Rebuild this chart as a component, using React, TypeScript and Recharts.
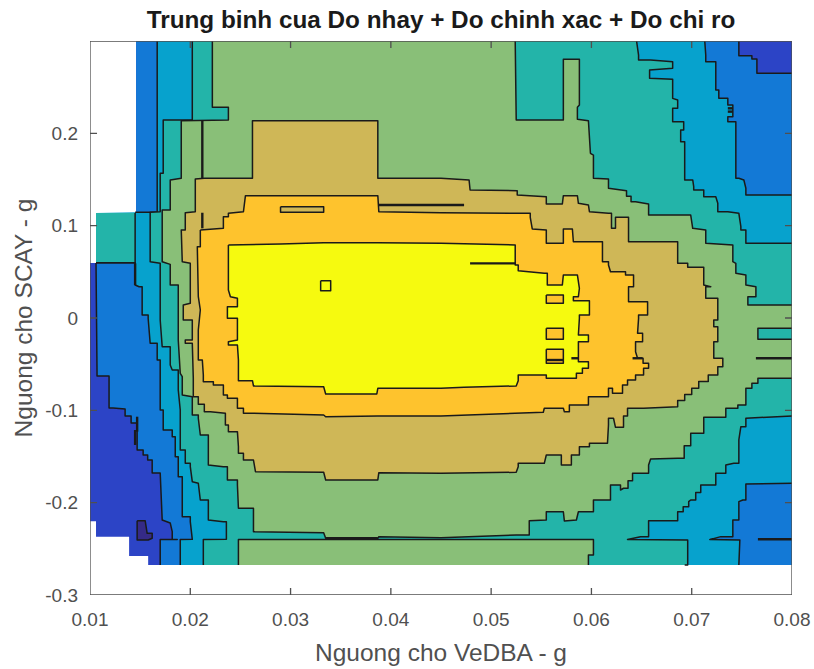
import { ComposedChart, Scatter, XAxis, YAxis } from 'recharts'

type Pt = [number, number]

const xTicks = [0.01, 0.02, 0.03, 0.04, 0.05, 0.06, 0.07, 0.08]
const yTicks = [-0.3, -0.2, -0.1, 0, 0.1, 0.2]
const xInnerTicks = [0.02, 0.03, 0.04, 0.05, 0.06, 0.07]
const yInnerTicks = [-0.2, -0.1, 0, 0.1, 0.2]

const COLORS = {
  deep: '#352A87',
  navy: '#2C44C6',
  blue: '#1379D6',
  cyan: '#07A2CD',
  teal: '#23B4A9',
  green: '#89BF78',
  tan: '#CFB757',
  orange: '#FEC32D',
  yellow: '#F6FA0F',
}

// Each level is a list of runs: even runs are contour lines, odd runs follow the edge of the data (no line)
const dataExtent: Pt[] = [
  [0.0146, 0.3], [0.08, 0.3], [0.08, -0.2675], [0.0158, -0.2675], [0.0158, -0.2578], [0.0139, -0.2578],
  [0.0139, -0.237], [0.0106, -0.237], [0.0106, -0.22], [0.01, -0.22], [0.01, 0.0596], [0.0106, 0.0596],
  [0.0106, 0.1137], [0.0146, 0.1137],
]

const blueCornerTop: Pt[] = [
  [0.0747, 0.3], [0.0747, 0.284], [0.076, 0.2805], [0.0765, 0.272], [0.0765, 0.265], [0.08, 0.265],
]
const blueLeft: Pt[] = [
  [0.017, -0.2675], [0.017, -0.24], [0.0187, -0.24], [0.0182, -0.2314], [0.018, -0.222], [0.0172, -0.2188],
  [0.017, -0.1679], [0.0162, -0.1538], [0.0153, -0.143], [0.0147, -0.1137], [0.0135, -0.0986], [0.0123, -0.0975],
  [0.0119, -0.0866], [0.0119, -0.0628], [0.0107, -0.0574], [0.0106, 0.0596],
]

const cyanTopLeft: Pt[] = [[0.0167, 0.3], [0.0167, 0.1145], [0.0145, 0.1145]]
const cyanLeft: Pt[] = [
  [0.0106, 0.0599], [0.0145, 0.0599], [0.0145, 0.0357], [0.0149, 0.0339], [0.0152, 0.0231], [0.0152, 0.0032],
  [0.0158, -0.0005], [0.016, -0.0274], [0.0167, -0.0455], [0.017, -0.0599], [0.017, -0.0996], [0.0173, -0.1213],
  [0.0182, -0.1285], [0.0185, -0.1502], [0.0188, -0.1719], [0.0192, -0.2152], [0.02, -0.2206], [0.0202, -0.2397],
  [0.019, -0.24], [0.019, -0.2675],
]
const cyanBottomRight: Pt[] = [
  [0.0747, -0.2675], [0.0748, -0.2404], [0.0718, -0.24], [0.0729, -0.2368], [0.0741, -0.2314], [0.0741, -0.2188],
  [0.0747, -0.1989], [0.0751, -0.1971], [0.0754, -0.1798], [0.08, -0.179],
]
const cyanTopRight: Pt[] = [
  [0.08, 0.1332], [0.0764, 0.1332], [0.0754, 0.1405], [0.0752, 0.1495], [0.0747, 0.1513], [0.0744, 0.2],
  [0.0744, 0.2126], [0.0736, 0.218], [0.0741, 0.2307], [0.0736, 0.2379], [0.0727, 0.2469], [0.0724, 0.265],
  [0.0724, 0.2776], [0.0714, 0.2848], [0.0713, 0.3],
]

const tealBlockEdge: Pt[] = [[0.0145, 0.1137], [0.0145, 0.0599], [0.0106, 0.0599]]
const tealLeft: Pt[] = [
  [0.0202, 0.3], [0.0202, 0.2144], [0.0173, 0.2144], [0.0173, 0.1567], [0.017, 0.1495], [0.017, 0.1151],
  [0.016, 0.1145], [0.016, 0.061], [0.017, 0.0592], [0.017, -0.0022], [0.0172, -0.0311], [0.018, -0.0509],
  [0.0182, -0.0563], [0.0188, -0.078], [0.019, -0.0996], [0.019, -0.143], [0.0195, -0.1574], [0.02, -0.161],
  [0.0202, -0.1773], [0.0208, -0.179], [0.021, -0.1971], [0.0218, -0.2079], [0.0218, -0.2188], [0.0233, -0.2206],
  [0.0236, -0.2397], [0.0213, -0.24], [0.0213, -0.2675],
]
const tealBottomRight: Pt[] = [
  [0.0693, -0.2675], [0.0696, -0.2567], [0.0696, -0.2404], [0.0636, -0.24], [0.0649, -0.2368], [0.0657, -0.2296],
  [0.0657, -0.2195], [0.0686, -0.2195], [0.0686, -0.2098], [0.0697, -0.1989], [0.0699, -0.1971], [0.0709, -0.1809],
  [0.0724, -0.1754], [0.0724, -0.1682], [0.0734, -0.1592], [0.0742, -0.1574], [0.0747, -0.1321], [0.0749, -0.1177],
  [0.0754, -0.1086], [0.08, -0.1061],
]
const tealTopRight: Pt[] = [
  [0.08, 0.0809], [0.0754, 0.0809], [0.0754, 0.0953], [0.0749, 0.0989], [0.0747, 0.1134], [0.0736, 0.1151],
  [0.0726, 0.1242], [0.0724, 0.1314], [0.0712, 0.1386], [0.0702, 0.1422], [0.0701, 0.1495], [0.0693, 0.153],
  [0.0693, 0.1909], [0.0689, 0.2036], [0.0692, 0.2126], [0.0681, 0.2163], [0.0681, 0.2271], [0.0686, 0.2307],
  [0.0686, 0.2361], [0.0681, 0.2379], [0.0681, 0.2585], [0.0658, 0.2596], [0.0658, 0.2686], [0.0681, 0.2704],
  [0.0681, 0.2776], [0.0659, 0.2794], [0.0647, 0.2848], [0.0645, 0.3],
]

const greenLower: Pt[] = [
  [0.0222, 0.3], [0.0222, 0.2282], [0.0238, 0.2282], [0.0238, 0.2144], [0.0191, 0.2137], [0.0191, 0.1513],
  [0.018, 0.1495], [0.018, 0.117], [0.0172, 0.1134], [0.0172, 0.061], [0.018, 0.0581], [0.018, 0.0357],
  [0.0188, 0.0321], [0.0188, -0.0022], [0.0188, -0.0238], [0.019, -0.0599], [0.0192, -0.0635], [0.0192, -0.0834],
  [0.0202, -0.0852], [0.0202, -0.105], [0.0208, -0.1086], [0.021, -0.1267], [0.0218, -0.1592], [0.0233, -0.161],
  [0.0237, -0.1754], [0.0247, -0.1809], [0.0248, -0.2061], [0.0263, -0.2134], [0.0263, -0.2314], [0.0333, -0.2325],
  [0.0335, -0.2386], [0.0387, -0.2386], [0.0388, -0.2368], [0.045, -0.2379], [0.0525, -0.235], [0.0538, -0.2296],
  [0.0538, -0.2195], [0.0555, -0.2188], [0.0555, -0.2098], [0.0572, -0.2098], [0.0573, -0.2198], [0.0585, -0.2188],
  [0.0587, -0.2098], [0.0602, -0.2044], [0.0602, -0.1971], [0.0616, -0.1971], [0.0619, -0.1809], [0.0626, -0.1809],
  [0.0629, -0.1863], [0.0632, -0.1844], [0.0641, -0.1682], [0.0657, -0.1592], [0.0659, -0.1527], [0.0686, -0.1519],
  [0.0699, -0.1249], [0.0712, -0.1159], [0.0712, -0.1075], [0.0734, -0.0978], [0.0746, -0.0942], [0.0754, -0.0761],
  [0.0766, -0.0653], [0.08, -0.0653],
]
const greenUpper: Pt[] = [
  [0.08, 0.0141], [0.0767, 0.0141], [0.0756, 0.0231], [0.0764, 0.0339], [0.0754, 0.0357], [0.0754, 0.0466],
  [0.0744, 0.0484], [0.0744, 0.0592], [0.0741, 0.061], [0.0741, 0.0791], [0.0714, 0.0809], [0.0714, 0.0953],
  [0.0701, 0.0971], [0.0699, 0.1115], [0.0657, 0.1151], [0.0657, 0.1235], [0.0644, 0.126], [0.0635, 0.1379],
  [0.0617, 0.1405], [0.0617, 0.1505], [0.0602, 0.1513], [0.0602, 0.1765], [0.0599, 0.1784], [0.0597, 0.2137],
  [0.0586, 0.2152], [0.0586, 0.2282], [0.0588, 0.2307], [0.0588, 0.2802], [0.0572, 0.2802], [0.0572, 0.2144],
  [0.0525, 0.2144], [0.0524, 0.3],
]
const greenStrip: Pt[] = [[0.0248, -0.2675], [0.0248, -0.24], [0.0602, -0.24], [0.0602, -0.2567], [0.0597, -0.2675]]
const tealNotch: Pt[] = [[0.08, -0.0112], [0.0766, -0.0112], [0.0766, -0.0231], [0.08, -0.0231]]

const tanContour: Pt[] = [
  [0.0214, 0.1513], [0.0262, 0.1513], [0.0262, 0.2137], [0.0387, 0.2137], [0.0387, 0.1513], [0.045, 0.1513],
  [0.0478, 0.1495], [0.0479, 0.1386], [0.0526, 0.1379], [0.0526, 0.1332], [0.0555, 0.1314], [0.0555, 0.1235],
  [0.0571, 0.1235], [0.0572, 0.1325], [0.0586, 0.1325], [0.0587, 0.1242], [0.0597, 0.1224], [0.0598, 0.1151],
  [0.0617, 0.1134], [0.062, 0.0971], [0.0624, 0.0971], [0.0624, 0.1091], [0.0632, 0.1091], [0.0637, 0.0826],
  [0.0686, 0.0791], [0.0686, 0.0592], [0.0696, 0.0549], [0.0712, 0.0466], [0.0712, 0.0357], [0.0719, 0.0339],
  [0.0714, 0.0213], [0.0726, 0.0122], [0.0726, -0.0022], [0.0722, -0.0094], [0.0726, -0.0257], [0.0722, -0.0436],
  [0.0731, -0.0527], [0.0726, -0.0617], [0.0707, -0.0761], [0.0686, -0.096], [0.0652, -0.0978], [0.0636, -0.1061],
  [0.0632, -0.1184], [0.0624, -0.1184], [0.0622, -0.1086], [0.0617, -0.1159], [0.0616, -0.1357], [0.0598, -0.1394],
  [0.0588, -0.1484], [0.058, -0.1592], [0.0573, -0.1592], [0.057, -0.1484], [0.0555, -0.1484], [0.0553, -0.1574],
  [0.0527, -0.161], [0.0525, -0.1671], [0.045, -0.1682], [0.0388, -0.1675], [0.0387, -0.1754], [0.0335, -0.1754],
  [0.0333, -0.1671], [0.0265, -0.1664], [0.0263, -0.1538], [0.0253, -0.1465], [0.0248, -0.1394], [0.0247, -0.1231],
  [0.0238, -0.1159], [0.0235, -0.1032], [0.022, -0.1015], [0.0208, -0.0852], [0.0203, -0.0653], [0.0202, -0.0274],
  [0.0195, -0.0274], [0.0195, -0.0238], [0.0202, -0.0238], [0.0202, -0.0022], [0.0193, 0.0014], [0.0193, 0.0141],
  [0.02, 0.0159], [0.02, 0.0592], [0.0192, 0.061], [0.0191, 0.0953], [0.0195, 0.0989], [0.0195, 0.114],
  [0.0205, 0.1151], [0.0205, 0.1505], [0.0214, 0.1513],
]

const orangeContour: Pt[] = [
  [0.021, 0.0953], [0.0233, 0.0971], [0.0233, 0.1097], [0.0238, 0.1134], [0.0253, 0.1151], [0.0255, 0.1325],
  [0.0387, 0.1325], [0.0388, 0.1151], [0.045, 0.114], [0.0523, 0.1134], [0.0539, 0.1091], [0.0541, 0.0964],
  [0.0555, 0.0953], [0.0555, 0.0809], [0.0572, 0.0809], [0.0572, 0.0964], [0.0581, 0.0964], [0.0582, 0.0826],
  [0.0611, 0.0772], [0.0611, 0.061], [0.0617, 0.0574], [0.0619, 0.0501], [0.0634, 0.0466], [0.0642, 0.0339],
  [0.0637, 0.0177], [0.0656, 0.0122], [0.0656, 0.0032], [0.0647, -0.0005], [0.0646, -0.0166], [0.0651, -0.0257],
  [0.0644, -0.0365], [0.0646, -0.0436], [0.0657, -0.0545], [0.0652, -0.0617], [0.0636, -0.0726], [0.0631, -0.0816],
  [0.0624, -0.0816], [0.0621, -0.0761], [0.0617, -0.0852], [0.0597, -0.0942], [0.0578, -0.1015], [0.0573, -0.1015],
  [0.0572, -0.0978], [0.0553, -0.0978], [0.0552, -0.1021], [0.0477, -0.105], [0.045, -0.1061], [0.0387, -0.1061],
  [0.0335, -0.1069], [0.0333, -0.105], [0.0263, -0.1032], [0.0253, -0.0978], [0.0247, -0.087], [0.0237, -0.0834],
  [0.0233, -0.0726], [0.0223, -0.069], [0.0213, -0.0617], [0.0212, -0.0455], [0.0208, -0.0311], [0.0208, -0.013],
  [0.021, 0.0087], [0.0208, 0.0231], [0.0207, 0.0772], [0.021, 0.0953],
]
const tanSlot: Pt[] = [[0.029, 0.1205], [0.0333, 0.1205], [0.0333, 0.1145], [0.029, 0.1145], [0.029, 0.1205]]

const yellowContour: Pt[] = [
  [0.0238, 0.0791], [0.029, 0.0801], [0.0333, 0.0816], [0.0387, 0.0816], [0.045, 0.0809], [0.0524, 0.0791],
  [0.0524, 0.0574], [0.0527, 0.0512], [0.0553, 0.0484], [0.0556, 0.0357], [0.0571, 0.0357], [0.0572, 0.0466],
  [0.0586, 0.0466], [0.0588, 0.0322], [0.0587, 0.0231], [0.0582, 0.0187], [0.0598, 0.0122], [0.0598, 0.0032],
  [0.0588, -0.0003], [0.0587, -0.0184], [0.0597, -0.0257], [0.0587, -0.0311], [0.0587, -0.0473], [0.0597, -0.0545],
  [0.0585, -0.0653], [0.0573, -0.0653], [0.0555, -0.0617], [0.0527, -0.0679], [0.0525, -0.0736], [0.0473, -0.0751],
  [0.045, -0.0761], [0.0387, -0.0761], [0.0386, -0.0823], [0.0335, -0.0823], [0.0333, -0.0744], [0.0263, -0.0736],
  [0.0262, -0.0679], [0.0248, -0.0642], [0.0248, -0.0455], [0.0247, -0.0292], [0.0238, -0.0257], [0.0247, -0.0238],
  [0.0247, -0.0003], [0.024, -0.0003], [0.0237, 0.0068], [0.0237, 0.0122], [0.0247, 0.0213], [0.024, 0.0231],
  [0.0238, 0.0303], [0.0238, 0.0791],
]
const yellowSquare: Pt[] = [[0.033, 0.0404], [0.034, 0.0404], [0.034, 0.0296], [0.033, 0.0296], [0.033, 0.0404]]
const orangeBoxTop: Pt[] = [[0.0555, 0.0249], [0.0572, 0.0249], [0.0572, 0.0159], [0.0555, 0.0159], [0.0555, 0.0249]]
const orangeBoxMid: Pt[] = [[0.0555, -0.0112], [0.0572, -0.0112], [0.0572, -0.0231], [0.0555, -0.0231], [0.0555, -0.0112]]
const orangeBoxLow: Pt[] = [[0.0555, -0.0339], [0.0572, -0.0339], [0.0572, -0.0491], [0.0555, -0.0491], [0.0555, -0.0339]]
const deepSpot: Pt[] = [
  [0.0147, -0.2195], [0.0155, -0.2195], [0.0157, -0.2332], [0.0162, -0.2386], [0.0158, -0.2404], [0.0147, -0.2404],
  [0.0147, -0.2195],
]

// contour pairs that nearly touch, they read as heavier strokes
const heavyLines: Pt[][] = [
  [[0.0212, 0.2137], [0.0212, 0.1513]],
  [[0.0212, 0.114], [0.0212, 0.0971]],
  [[0.0388, 0.1224], [0.0473, 0.1224]],
  [[0.0479, 0.0592], [0.0524, 0.0592]],
  [[0.0145, 0.0592], [0.0145, 0.0357]],
  [[0.0764, -0.0436], [0.08, -0.0436]],
  [[0.0766, -0.2397], [0.08, -0.2397]],
  [[0.058, -0.0436], [0.0587, -0.0436]],
  [[0.0641, -0.0436], [0.0651, -0.0436]],
  [[0.0555, -0.0455], [0.0572, -0.0455]],
  [[0.0147, -0.1069], [0.0147, -0.1231]],
  [[0.0145, -0.1213], [0.0145, -0.1375]],
  [[0.0736, 0.2271], [0.0741, 0.2271]],
  [[0.0736, 0.2235], [0.0741, 0.2235]],
  [[0.0335, -0.2386], [0.0387, -0.2386]],
]

const levels: { color: string; runs: Pt[][] }[] = [
  { color: COLORS.navy, runs: [[], dataExtent] },
  { color: COLORS.blue, runs: [blueCornerTop, [[0.08, -0.2675]], blueLeft, [[0.0106, 0.1137], [0.0146, 0.1137], [0.0146, 0.3]]] },
  { color: COLORS.deep, runs: [deepSpot] },
  { color: COLORS.cyan, runs: [cyanTopLeft, [[0.0106, 0.1137]], cyanLeft, [], cyanBottomRight, [], cyanTopRight] },
  { color: COLORS.teal, runs: [tealBlockEdge, [[0.0106, 0.1137]]] },
  { color: COLORS.teal, runs: [tealLeft, [], tealBottomRight, [], tealTopRight] },
  { color: COLORS.green, runs: [greenLower, [], greenUpper] },
  { color: COLORS.green, runs: [greenStrip] },
  { color: COLORS.teal, runs: [tealNotch] },
  { color: COLORS.tan, runs: [tanContour] },
  { color: COLORS.orange, runs: [orangeContour] },
  { color: COLORS.tan, runs: [tanSlot] },
  { color: COLORS.yellow, runs: [yellowContour] },
  { color: COLORS.yellow, runs: [yellowSquare] },
  { color: COLORS.orange, runs: [orangeBoxTop] },
  { color: COLORS.orange, runs: [orangeBoxMid] },
  { color: COLORS.orange, runs: [orangeBoxLow] },
]

// axes paint under the series, so the box and its inward ticks go on top as a series too
const boxOutline: Pt[] = [[0.01, -0.3], [0.08, -0.3], [0.08, 0.3], [0.01, 0.3], [0.01, -0.3]]
const X_TICK_LEN = 0.0076
const Y_TICK_LEN = 0.0007
const boxRuns: Pt[][] = [
  boxOutline,
  [],
  ...xInnerTicks.flatMap((x): Pt[][] => [
    [[x, -0.3], [x, -0.3 + X_TICK_LEN]], [],
    [[x, 0.3], [x, 0.3 - X_TICK_LEN]], [],
  ]),
  ...yInnerTicks.flatMap((y): Pt[][] => [
    [[0.01, y], [0.01 + Y_TICK_LEN, y]], [],
    [[0.08, y], [0.08 - Y_TICK_LEN, y]], [],
  ]),
]

const FONT = '"Liberation Sans", Arial, sans-serif'
const AXIS = '#505050'
const STEP = 6

// the grid behind the contours is coarse, so slanted edges are drawn as little stairs
function stairs(a: any, b: any) {
  const dx = b.x - a.x
  const dy = b.y - a.y
  if (Math.abs(dx) < 3 || Math.abs(dy) < 3) return `L${b.x} ${b.y}`
  const n = Math.max(1, Math.round(Math.min(Math.abs(dx), Math.abs(dy)) / STEP))
  let out = ''
  for (let k = 1; k <= n; k++) {
    out += `L${a.x + (dx * k) / n} ${a.y + (dy * (k - 1)) / n}L${a.x + (dx * k) / n} ${a.y + (dy * k) / n}`
  }
  return out
}

function trace(pts: any[]) {
  let d = `M${pts[0].x} ${pts[0].y}`
  for (let k = 1; k < pts.length; k++) d += stairs(pts[k - 1], pts[k])
  return d
}

// drawn by Scatter as its line: gets the points already run through the axis scales
function ContourPatch({ points, color, runs, weight = 1.5, ink = '#1a1a1a' }: any) {
  if (!points || !points.length) return null
  let i = 0
  let linePath = ''
  let fillPath = ''
  runs.forEach((run: Pt[], r: number) => {
    const chunk = points.slice(i, i + run.length)
    i += run.length
    if (!chunk.length) return
    if (r % 2 === 0 && chunk.length > 1) linePath += trace(chunk)
    fillPath += fillPath ? trace(chunk).replace('M', 'L') : trace(chunk)
  })
  return (
    <g>
      {color !== 'none' && <path d={fillPath + 'Z'} fill={color} stroke="none" />}
      {linePath && <path d={linePath} fill="none" stroke={ink} strokeWidth={weight} strokeLinejoin="round" />}
    </g>
  )
}

const NoDot = () => <g />

function levelSeries(color: string, runs: Pt[][], key: string, weight?: number, ink?: string) {
  const data = runs.flat().map(([x, y]) => ({ x, y }))
  return (
    <Scatter
      key={key}
      data={data}
      isAnimationActive={false}
      shape={NoDot}
      line={<ContourPatch color={color} runs={runs} weight={weight} ink={ink} />}
    />
  )
}

export default function App() {
  const tickStyle = { fontSize: 19, fontFamily: FONT, fill: AXIS }
  return (
    <div style={{ position: 'absolute', left: 0, top: 0, background: '#fff' }}>
      <ComposedChart width={814} height={669} margin={{ top: 41, right: 22, bottom: 0, left: 0 }}>
        {levels.map((l, i) => levelSeries(l.color, l.runs, `level-${i}`))}
        {heavyLines.map((l, i) => levelSeries('none', [l], `heavy-${i}`, 2.4))}
        {levelSeries('none', boxRuns, 'box', 1.3, AXIS)}
        <XAxis
          type="number"
          dataKey="x"
          domain={[0.01, 0.08]}
          ticks={xTicks}
          allowDataOverflow
          interval={0}
          height={74}
          tickSize={0}
          tickLine={false}
          axisLine={false}
          tickMargin={18}
          tick={tickStyle}
          tickFormatter={(v: number) => String(v)}
        />
        <YAxis
          type="number"
          dataKey="y"
          domain={[-0.3, 0.3]}
          ticks={yTicks}
          allowDataOverflow
          interval={0}
          width={90}
          tickSize={0}
          tickLine={false}
          axisLine={false}
          tickMargin={12}
          tick={tickStyle}
          tickFormatter={(v: number) => String(v)}
        />
        <text x={441} y={28} textAnchor="middle" fontFamily={FONT} fontSize={24.3} fontWeight="bold" fill="#1a1a1a">
          Trung binh cua Do nhay + Do chinh xac + Do chi ro
        </text>
        <text x={441} y={661} textAnchor="middle" fontFamily={FONT} fontSize={24.5} fill={AXIS}>
          Nguong cho VeDBA - g
        </text>
        <text x={32} y={318} textAnchor="middle" transform="rotate(-90 32 318)" fontFamily={FONT} fontSize={24.5} fill={AXIS}>
          Nguong cho SCAY - g
        </text>
      </ComposedChart>
    </div>
  )
}
